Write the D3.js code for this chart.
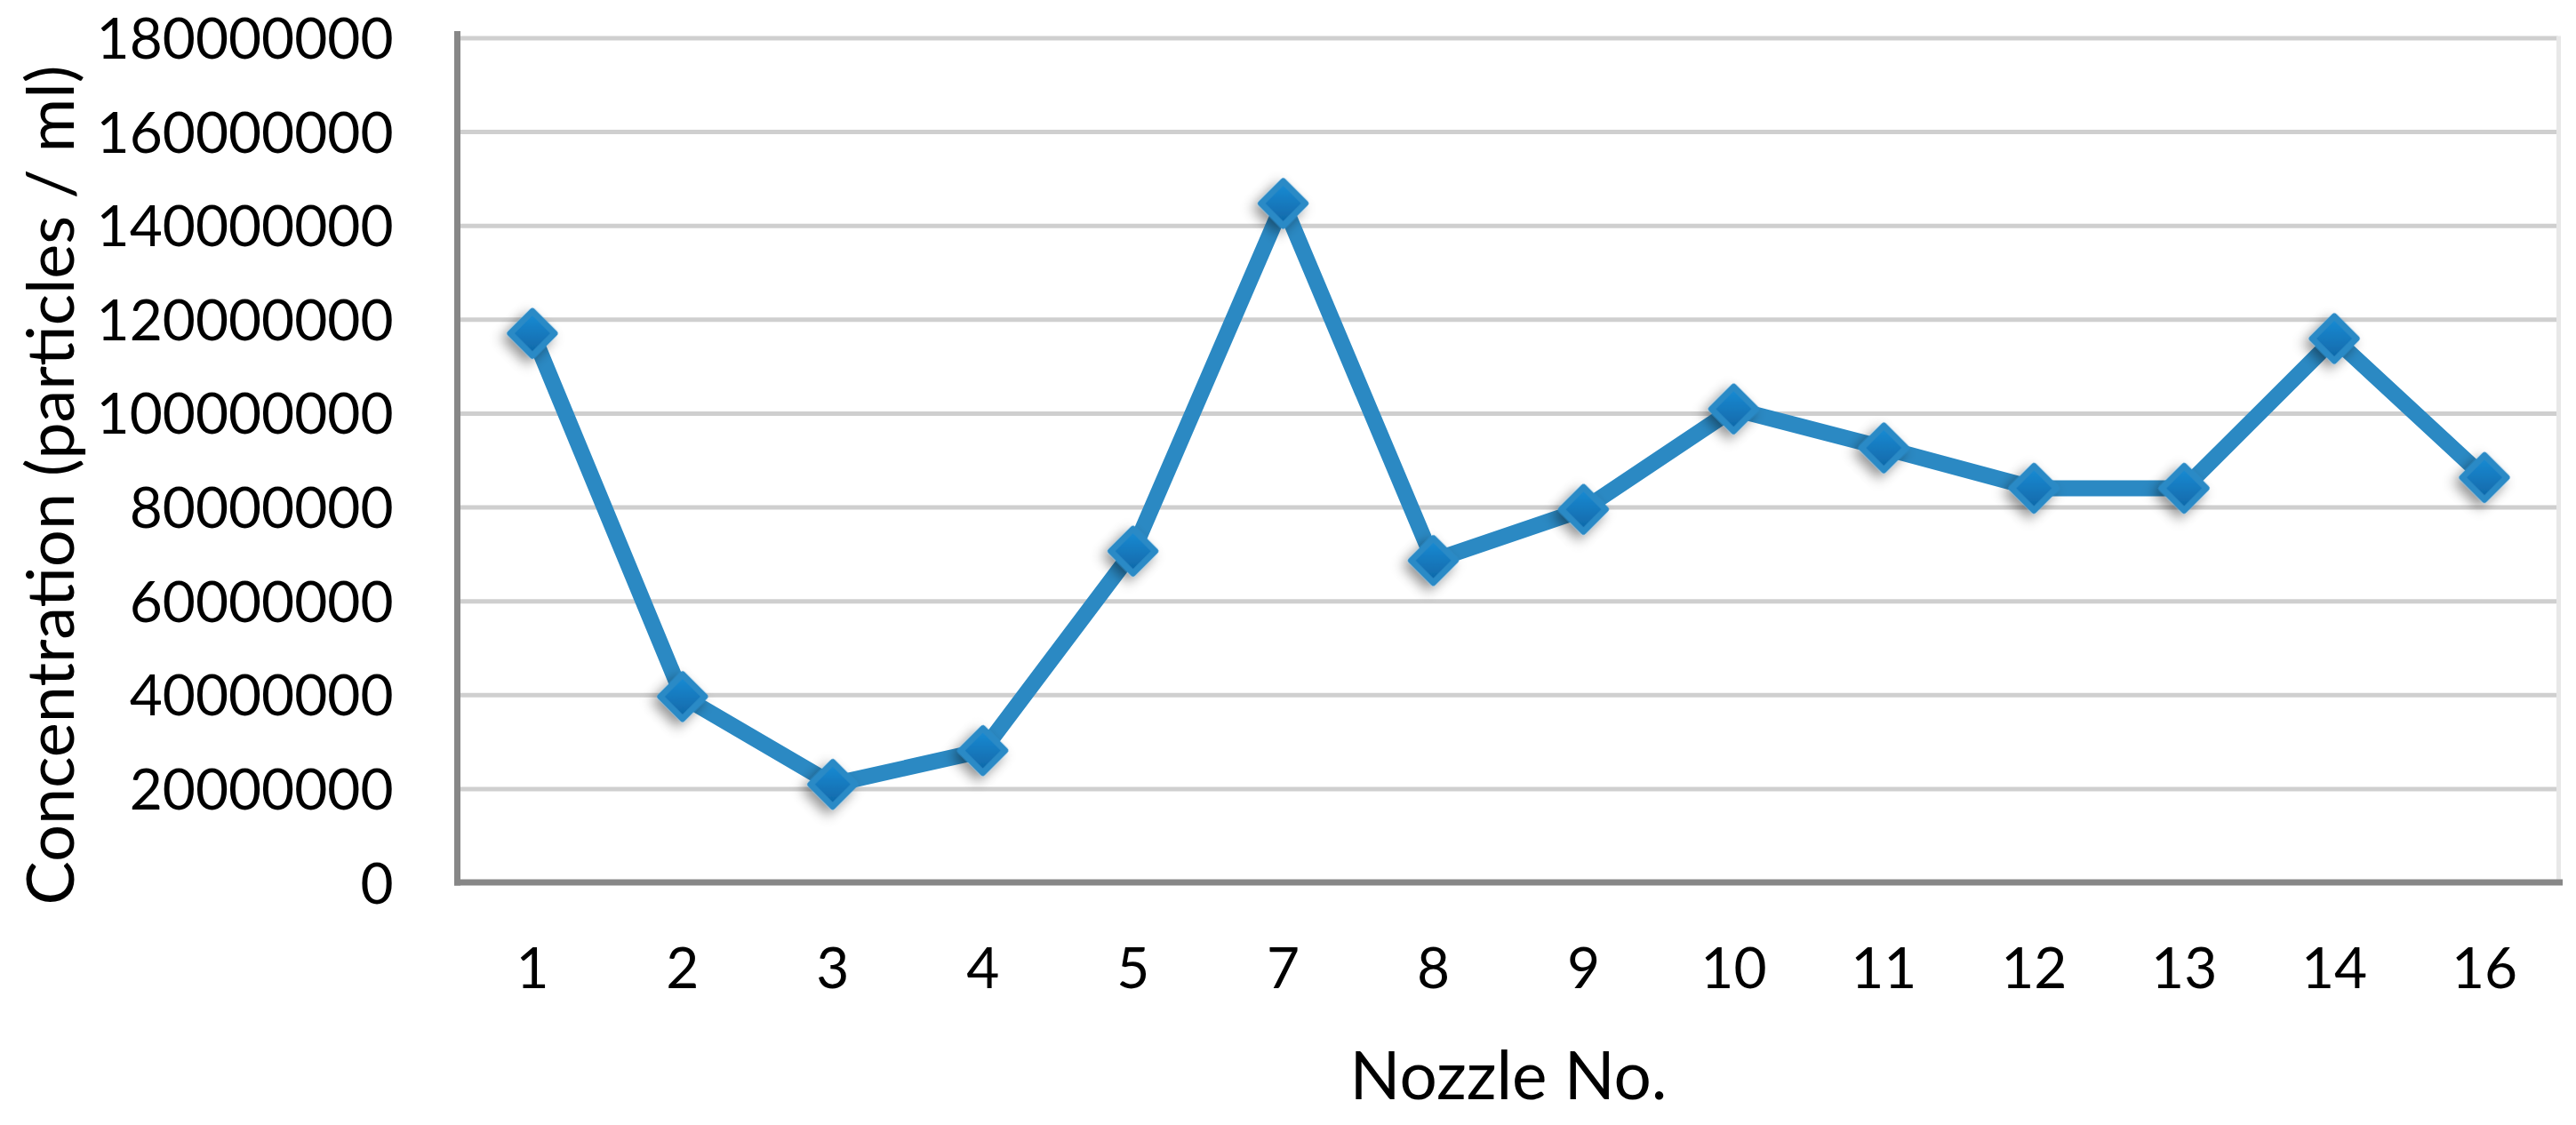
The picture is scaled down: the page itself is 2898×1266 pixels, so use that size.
<!DOCTYPE html>
<html><head><meta charset="utf-8">
<script src="https://cdn.jsdelivr.net/npm/d3@7"></script>
<style>html,body{margin:0;padding:0;background:#fff;} svg{display:block;}</style>
</head><body>
<svg id="chart" width="2898" height="1266"></svg>
<script>
// ---- data ----
const nozzles = ["1","2","3","4","5","7","8","9","10","11","12","13","14","16"];
const concentration = [117.0e6, 39.6e6, 20.9e6, 28.1e6, 70.6e6, 144.7e6, 68.6e6, 79.5e6, 100.9e6, 92.6e6, 84.0e6, 84.0e6, 115.9e6, 86.3e6];
const yTicks = [0, 20000000, 40000000, 60000000, 80000000, 100000000, 120000000, 140000000, 160000000, 180000000];
const xTitle = "Nozzle No.";
const yTitle = "Concentration (particles / ml)";

// ---- layout ----
const W = 2898, H = 1266;
const plot = {left: 514.5, right: 2879.5, top: 42.5, bottom: 993};
const FONT = "Lato, 'Open Sans', 'Noto Sans', sans-serif";

const svg = d3.select("#chart");
const defs = svg.append("defs");

const grad = defs.append("linearGradient").attr("id", "mk")
  .attr("x1", 0).attr("y1", 0).attr("x2", 1).attr("y2", 1);
grad.append("stop").attr("offset", "0%").attr("stop-color", "#1B8DD6");
grad.append("stop").attr("offset", "100%").attr("stop-color", "#0F66A6");

const sh = defs.append("filter").attr("id", "shadow")
  .attr("x", "-80%").attr("y", "-80%").attr("width", "260%").attr("height", "260%");
sh.append("feDropShadow").attr("dx", 0).attr("dy", 8).attr("stdDeviation", 7)
  .attr("flood-color", "#000").attr("flood-opacity", 0.42);

const x = d3.scaleBand().domain(nozzles).range([plot.left, plot.right]).paddingInner(0).paddingOuter(0);
const y = d3.scaleLinear().domain([0, 180000000]).range([plot.bottom, plot.top]);

// helper to fit font size to a target width
function fitSize(text, target) {
  const t = svg.append("text").attr("font-family", FONT).attr("font-size", 100).text(text);
  const w = t.node().getComputedTextLength();
  t.remove();
  return 100 * target / w;
}
const tickFs = fitSize("180000000", 334);
const xTitleFs = fitSize(xTitle, 357);
const yTitleFs = fitSize(yTitle, 945);

// gridlines + y axis
const gy = svg.append("g").attr("transform", `translate(${plot.left},0)`)
  .call(d3.axisLeft(y).tickValues(yTicks).tickFormat(d3.format("d"))
    .tickSizeInner(-(plot.right - plot.left - 2)).tickSizeOuter(0).tickPadding(72));
gy.selectAll(".tick line").attr("stroke", "#CFCFCF").attr("stroke-width", 5);
gy.selectAll(".tick").filter(d => d === 0).select("line").remove();
gy.selectAll(".tick text").attr("font-family", FONT).attr("font-size", tickFs)
  .attr("fill", "#000").attr("dy", "0.36em");
gy.select(".domain").remove();

// right border
svg.append("line").attr("x1", plot.right - 1).attr("x2", plot.right - 1)
  .attr("y1", plot.top - 2).attr("y2", plot.bottom)
  .attr("stroke", "#E8E8E8").attr("stroke-width", 5);

// x axis
const gx = svg.append("g").attr("transform", `translate(0,${plot.bottom})`)
  .call(d3.axisBottom(x).tickSize(0).tickPadding(0));
gx.select(".domain").remove();
gx.selectAll(".tick text").attr("font-family", FONT).attr("font-size", tickFs)
  .attr("fill", "#000").attr("y", 96 + tickFs * 0.36).attr("dy", 0);

// axis lines
svg.append("line").attr("x1", plot.left).attr("x2", plot.left)
  .attr("y1", plot.top - 4).attr("y2", plot.bottom)
  .attr("stroke", "#878787").attr("stroke-width", 7).attr("stroke-linecap", "square");
svg.append("line").attr("x1", plot.left).attr("x2", plot.right)
  .attr("y1", plot.bottom).attr("y2", plot.bottom)
  .attr("stroke", "#878787").attr("stroke-width", 7).attr("stroke-linecap", "square");

// series line
const pts = nozzles.map((n, i) => ({n, v: concentration[i]}));
const cx = d => x(d.n) + x.bandwidth() / 2;
svg.append("path").datum(pts)
  .attr("d", d3.line().x(cx).y(d => y(d.v)))
  .attr("fill", "none").attr("stroke", "#2B89C3").attr("stroke-width", 18)
  .attr("stroke-linejoin", "miter");

// markers
const sym = d3.symbol().type(d3.symbolSquare).size(1250);
svg.append("g").selectAll("path").data(pts).join("path")
  .attr("d", sym)
  .attr("transform", d => `translate(${cx(d)},${y(d.v)}) rotate(45)`)
  .attr("fill", "url(#mk)").attr("stroke", "#2C8AC6").attr("stroke-width", 7)
  .attr("stroke-linejoin", "round").attr("filter", "url(#shadow)");

// titles
svg.append("text").attr("x", (plot.left + plot.right) / 2).attr("y", 1210)
  .attr("dy", "0.36em").attr("text-anchor", "middle")
  .attr("font-family", FONT).attr("font-size", xTitleFs).attr("fill", "#000").text(xTitle);
svg.append("text").attr("transform", "translate(83,546) rotate(-90)")
  .attr("text-anchor", "middle")
  .attr("font-family", FONT).attr("font-size", yTitleFs).attr("fill", "#000").text(yTitle);
</script>
</body></html>
